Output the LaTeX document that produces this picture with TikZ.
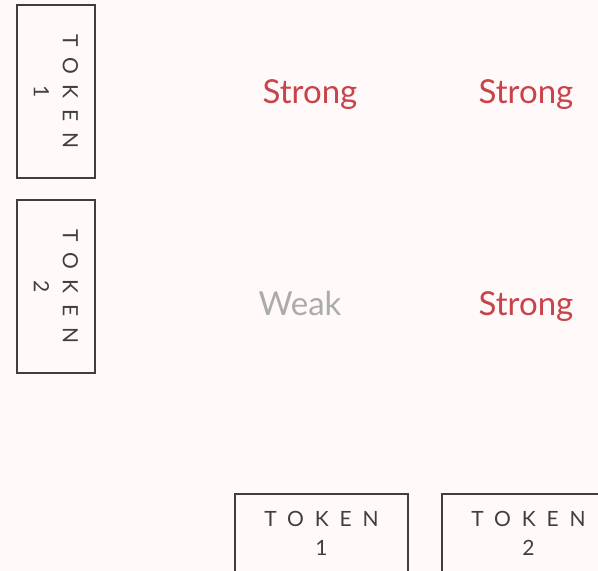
\documentclass[tikz,border=0pt]{standalone}
\usepackage{fontspec}
\setmainfont{Lato}
\usepackage{tikz}
\usepackage{xcolor}

\definecolor{paper}{HTML}{FFFAF9}
\definecolor{inkgray}{HTML}{3F3F3F}
\definecolor{strongred}{HTML}{C9434B}
\definecolor{weakgray}{HTML}{ABABAB}

\tikzset{
  tokbox/.style={draw=inkgray, line width=1.6pt, rectangle, inner sep=0pt,
    minimum width=173pt, minimum height=78pt, align=center, text=inkgray,
    font=\fontsize{21}{29}\selectfont\addfontfeatures{LetterSpace=52}},
  strong/.style={text=strongred, font=\fontsize{33}{38}\selectfont},
  weak/.style={text=weakgray, font=\fontsize{33}{38}\selectfont}
}

\begin{document}
\begin{tikzpicture}[x=1pt, y=-1pt]

\fill[paper] (0,0) rectangle (598,571);
\useasboundingbox (0,0) rectangle (598,571);
\clip (0,0) rectangle (598,571);

% tokens on the left, turned
\node[tokbox, rotate=-90] (row1) at (56,91.5) {TOKEN\\1};
\node[tokbox, rotate=-90] (row2) at (56,286.5) {TOKEN\\2};

% tokens along the bottom
\node[tokbox] (col1) at (321.5,533) {TOKEN\\1};
\node[tokbox] (col2) at (528.5,533) {TOKEN\\2};

% scores
\node[strong] (s11) at (310,95) {Strong};
\node[strong] (s12) at (526,95) {Strong};
\node[weak] (s21) at (300,303) {Weak};
\node[strong] (s22) at (526,307) {Strong};

\end{tikzpicture}
\end{document}
